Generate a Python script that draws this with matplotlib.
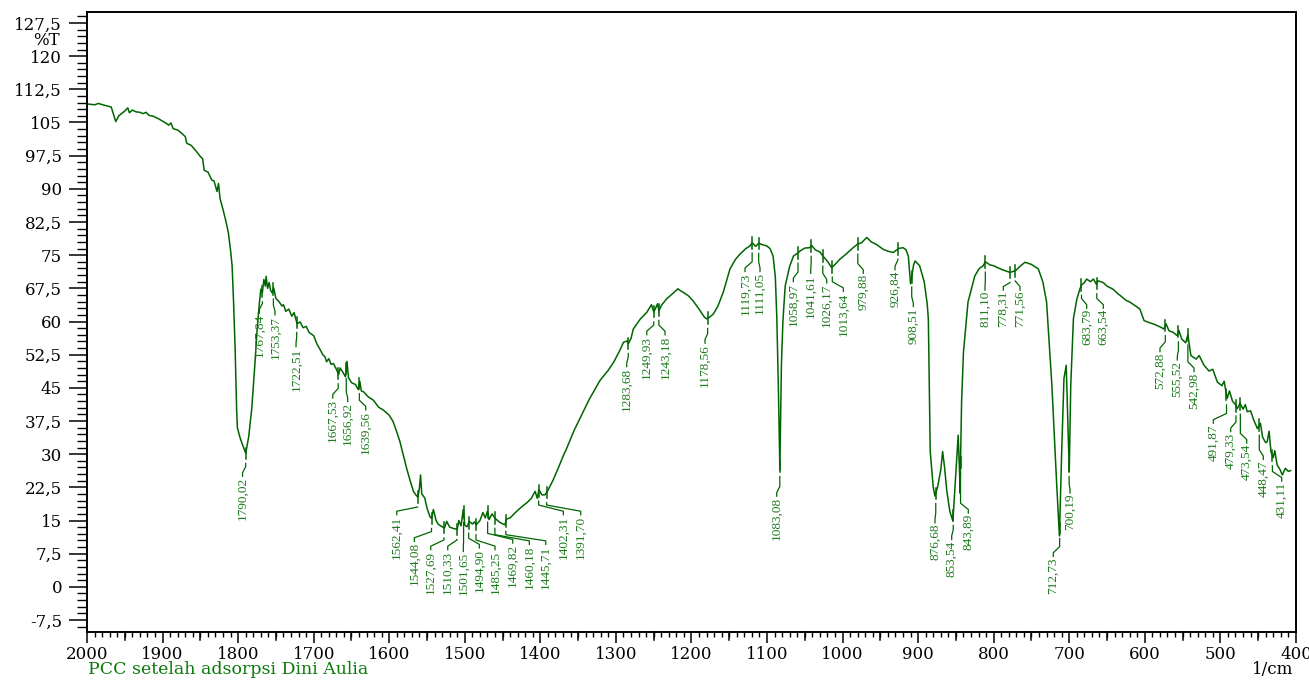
import numpy as np
import matplotlib
matplotlib.use("Agg")
from matplotlib import pyplot as plt
from matplotlib.ticker import FixedLocator, MultipleLocator
import matplotlib.transforms as mtransforms

# FTIR spectrum (wavenumber 1/cm, %T)
wavenumber = [
    2000, 1990, 1985, 1975, 1968, 1962, 1958, 1950, 1946, 1944, 1940, 1935, 1930, 1926,
    1922, 1918, 1912, 1905, 1900, 1895, 1892, 1889, 1886, 1880, 1875, 1870, 1868, 1862,
    1855, 1850, 1847, 1845, 1840, 1835, 1832, 1828, 1826, 1824, 1820, 1816, 1813, 1810,
    1808, 1806, 1804, 1802, 1801, 1798, 1795, 1790, 1786, 1782, 1778, 1775, 1772, 1770,
    1768, 1766, 1764, 1763, 1761, 1759, 1757, 1755, 1753, 1750, 1746, 1742, 1740, 1737,
    1733, 1729, 1726, 1722, 1718, 1714, 1710, 1706, 1700, 1696, 1692, 1688, 1685, 1683,
    1680, 1677, 1674, 1670, 1667, 1665, 1661, 1658, 1656, 1654, 1650, 1648, 1645, 1641,
    1639, 1637, 1634, 1628, 1621, 1614, 1608, 1600, 1595, 1590, 1586, 1581, 1577, 1572,
    1568, 1564, 1562, 1560, 1558.6, 1557, 1553, 1550, 1546, 1544, 1541.6, 1538, 1535, 1530,
    1527, 1524, 1520, 1515, 1510, 1508, 1505, 1502, 1500, 1497, 1494, 1490, 1487, 1485,
    1480, 1476, 1473, 1470, 1468, 1464, 1460, 1458, 1453, 1447, 1445, 1440, 1436, 1430,
    1424, 1418, 1412, 1407, 1404, 1402, 1398, 1394, 1391, 1388, 1383, 1376, 1370, 1365,
    1355, 1345, 1335, 1321, 1310, 1303, 1295, 1290, 1285, 1283.5, 1280, 1277, 1268, 1259,
    1253, 1250, 1248, 1245, 1243, 1240, 1233, 1225, 1218, 1215, 1210, 1204, 1198, 1190,
    1183, 1180, 1176, 1171, 1165, 1158, 1149, 1142, 1136, 1128, 1122.5, 1119.7, 1115, 1111,
    1105, 1100.5, 1096, 1092, 1089, 1087, 1085, 1083, 1081, 1079, 1076, 1070, 1065, 1059,
    1056, 1050, 1043, 1041, 1036, 1030, 1026, 1020, 1014.5, 1010, 1003.5, 995, 986, 980,
    975, 968, 962, 955, 946, 940, 933, 926, 920, 916, 913, 910, 906, 904,
    898, 892, 888, 886.5, 884, 880, 877.7, 874, 870, 867.6, 865, 862, 858, 854,
    850, 847, 845, 844.6, 842.5, 840, 834, 825, 819, 814, 811, 805, 800, 790,
    778.5, 771, 765, 758.6, 750, 741, 735, 730, 723, 716.6, 713, 710, 707, 704,
    700, 698, 694.5, 690, 686, 684, 680, 677, 672, 668, 664, 662, 655, 650,
    642, 635, 631.9, 625, 620, 612, 606.5, 601, 595, 588, 580, 574.6, 572, 568,
    563, 557, 555, 551, 546, 543, 539, 532, 528, 521.6, 515, 510, 504, 498,
    495, 491, 488, 484, 480, 477.6, 474, 470, 467, 464.4, 460, 456, 451, 447,
    444, 440, 438, 435.5, 433, 430, 428, 424.9, 421, 418, 414, 410, 407,
]
transmittance = [
    109.2, 109.0, 109.3, 108.8, 108.5, 105.2, 106.5, 107.6, 108.3, 107.2, 107.8, 107.4, 107.3, 107.0,
    107.3, 106.6, 106.4, 105.8, 105.3, 104.8, 104.4, 104.9, 103.6, 103.3, 102.6, 101.8, 100.3, 99.8,
    98.4, 97.3, 96.8, 94.2, 93.8, 92.0, 91.8, 89.4, 91.2, 87.8, 85.3, 82.5, 80.1, 76.0,
    72.6, 64.0, 53.8, 40.0, 36.0, 34.0, 32.5, 30.2, 34.0, 40.3, 50.0, 58.0, 64.0, 67.3,
    66.5, 69.5, 68.0, 70.2, 67.5, 68.8, 67.0, 66.5, 67.6, 65.2, 64.5, 63.5, 63.8, 62.3,
    62.8, 61.2, 62.0, 59.5, 59.9, 58.6, 58.9, 57.5, 56.8, 55.0, 53.8, 52.5, 52.0, 50.9,
    51.6, 50.3, 50.5, 49.2, 48.0, 49.5, 48.4, 47.5, 51.0, 47.3, 46.2, 46.0, 45.8, 44.6,
    46.5, 44.3, 44.1, 43.0, 42.2, 40.6, 40.0, 38.8, 37.4, 35.0, 32.9, 29.5, 26.8, 23.8,
    21.6, 20.6, 20.3, 22.5, 25.3, 21.0, 20.1, 17.8, 15.8, 15.5, 17.5, 15.0, 14.1, 13.6,
    13.3, 14.8, 13.5, 13.2, 13.0, 15.0, 13.8, 17.5, 13.9, 13.6, 14.8, 14.2, 14.7, 14.0,
    15.0, 16.8, 15.6, 17.1, 15.2, 16.5, 15.5, 15.2, 14.5, 14.0, 15.3, 15.6, 16.3, 17.3,
    18.2, 19.0, 20.0, 21.6, 20.0, 22.0, 20.8, 20.8, 21.5, 22.5, 24.2, 27.0, 29.5, 31.4,
    35.5, 39.0, 42.5, 46.7, 49.0, 50.8, 53.4, 55.3, 55.6, 55.0, 56.2, 58.3, 60.5, 62.1,
    63.8, 62.2, 62.8, 64.0, 62.4, 63.6, 65.1, 66.3, 67.4, 67.0, 66.5, 65.8, 64.7, 62.8,
    61.0, 60.6, 61.0, 61.7, 63.5, 66.6, 71.9, 74.0, 75.2, 76.5, 77.1, 77.8, 77.0, 77.7,
    77.3, 77.1, 76.5, 74.8, 70.0, 60.6, 45.0, 26.5, 50.0, 60.0, 68.0, 72.5, 74.8, 75.5,
    76.0, 76.6, 76.7, 77.2, 76.2, 75.7, 74.8, 73.6, 72.2, 72.9, 74.1, 75.3, 76.7, 77.5,
    77.8, 79.0, 78.0, 77.4, 76.3, 75.9, 75.6, 76.5, 76.7, 76.2, 74.8, 68.5, 72.8, 73.7,
    72.6, 69.0, 64.0, 60.6, 30.6, 22.5, 20.5, 22.8, 26.5, 30.6, 27.0, 21.6, 17.0, 14.9,
    26.1, 34.3, 25.0, 21.2, 41.8, 53.1, 64.4, 70.3, 72.0, 72.6, 73.5, 72.8, 72.6, 71.8,
    71.1, 71.5, 72.5, 73.4, 72.9, 71.9, 69.0, 64.4, 45.6, 23.1, 11.5, 30.6, 47.1, 50.1,
    26.1, 45.6, 60.6, 65.0, 67.3, 68.2, 68.8, 69.6, 69.0, 69.6, 68.4, 69.2, 68.8, 68.0,
    67.3, 66.2, 65.8, 64.8, 64.4, 63.5, 62.8, 60.2, 59.8, 59.4, 58.8, 58.3, 59.5, 57.9,
    57.6, 56.8, 58.0, 56.0, 55.2, 57.0, 52.3, 51.5, 52.3, 50.1, 48.8, 49.2, 46.3, 45.5,
    46.5, 42.6, 44.3, 42.0, 41.2, 40.3, 41.5, 40.2, 41.2, 39.6, 39.8, 37.8, 35.8, 37.0,
    33.8, 32.6, 32.8, 35.2, 30.5, 29.2, 30.8, 27.6, 26.5, 25.3, 26.8, 26.1, 26.3,
]

# labelled peaks
peak_wn = [
    1790.02, 1767.84, 1753.37, 1722.51, 1667.53, 1656.92, 1639.56, 1562.41, 1544.08,
    1527.69, 1510.33, 1501.65, 1494.90, 1485.25, 1469.82, 1460.18, 1445.71, 1402.31,
    1391.70, 1283.68, 1249.93, 1243.18, 1178.56, 1119.73, 1111.05, 1083.08, 1058.97,
    1041.61, 1026.17, 1013.64, 979.88, 926.84, 908.51, 876.68, 853.54, 843.89, 811.10,
    778.31, 771.56, 712.73, 700.19, 683.79, 663.54, 572.88, 555.52, 542.98, 491.87,
    479.33, 473.54, 448.47, 431.11,
]

# label layout: column position (1/cm) and top of text (%T)
label_x = [
    1794.2, 1772.0, 1751.2, 1723.4, 1674.8, 1655.0, 1631.1, 1590.1, 1566.8,
    1545.1, 1522.6, 1502.0, 1480.8, 1460.0, 1436.6, 1414.6, 1392.9, 1369.6,
    1346.6, 1285.7, 1259.2, 1235.0, 1182.1, 1129.1, 1109.3, 1087.2, 1065.2,
    1042.2, 1021.0, 999.0, 972.6, 930.6, 906.4, 877.7, 855.6, 833.6, 811.5,
    787.3, 765.2, 721.1, 699.0, 676.9, 654.9, 579.9, 557.0, 534.9, 509.3,
    486.3, 465.1, 443.2, 418.8,
]
label_top = [
    25.0, 61.9, 61.5, 54.3, 42.7, 41.9, 40.0, 16.3, 10.3,
    8.4, 8.4, 8.0, 8.8, 8.4, 9.9, 9.6, 9.6, 16.3,
    16.3, 49.8, 57.0, 57.0, 55.1, 71.3, 71.3, 20.5, 69.0,
    70.9, 68.7, 66.8, 70.9, 71.7, 63.4, 14.5, 10.7, 16.7, 67.1,
    67.1, 67.1, 6.9, 21.2, 63.0, 63.0, 53.2, 51.3, 48.7, 37.0,
    35.1, 32.5, 28.8, 23.9,
]

ytick_values = [-7.5, 0, 7.5, 15, 22.5, 30, 37.5, 45, 52.5, 60, 67.5, 75, 82.5,
                90, 97.5, 105, 112.5, 120, 127.5]
xtick_values = [2000, 1900, 1800, 1700, 1600, 1500, 1400, 1300, 1200, 1100,
                1000, 900, 800, 700, 600, 500, 400]

curve_color = '#006400'
label_color = '#1b7a1b'
serif = ['DejaVu Serif']

fig = plt.figure(figsize=(13.09, 6.81), dpi=100)
ax = fig.add_axes([0.0665, 0.072, 0.9235, 0.9105])

ax.plot(wavenumber, transmittance, color=curve_color, lw=1.1)

# peak markers, leader lines and rotated labels
wn_inc = np.array(wavenumber)[::-1]
t_inc = np.array(transmittance)[::-1]
for p, xl, yt in zip(peak_wn, label_x, label_top):
    v = np.interp(p, wn_inc, t_inc)
    ax.plot([p, p], [v - 1.3, v + 1.3], color=curve_color, lw=1.1)
    y0 = v - 2.3
    y1 = yt + 2.2 if y0 > yt + 2.2 else y0
    ax.plot([p, p, xl, xl], [y0, y1, yt + 0.8, yt], color=curve_color, lw=0.9)
    ax.text(xl, yt - 0.2, f"{p:.2f}".replace('.', ','), rotation=90,
            ha='center', va='top', color=label_color, fontsize=9.5,
            family=['Liberation Serif'])

ax.set_xlim(2000, 400)
ax.set_ylim(-10.2, 130)

ax.yaxis.set_major_locator(FixedLocator(ytick_values))
ax.set_yticklabels([f"{t:g}".replace('.', ',') for t in ytick_values])
ax.yaxis.set_minor_locator(MultipleLocator(1.5))
ax.xaxis.set_major_locator(FixedLocator(xtick_values))
ax.set_xticklabels([str(t) for t in xtick_values])
ax.xaxis.set_minor_locator(MultipleLocator(10))

ax.tick_params(axis='y', which='major', direction='out', length=13, width=1.1,
               pad=5, labelsize=12)
ax.tick_params(axis='y', which='minor', direction='out', length=7, width=1.0)
ax.tick_params(axis='x', which='major', direction='out', length=8, width=1.1,
               pad=2, labelsize=12)
ax.tick_params(axis='x', which='minor', direction='out', length=3.5, width=1.0)
for lab in ax.get_xticklabels() + ax.get_yticklabels():
    lab.set_family(serif)

# medium ticks at the half hundreds
trans = mtransforms.blended_transform_factory(ax.transData, ax.transAxes)
for w in np.arange(1950, 400, -100):
    ax.plot([w, w], [0, -0.0135], transform=trans, color='black', lw=1.1,
            clip_on=False)

for s in ax.spines.values():
    s.set_linewidth(1.4)

ytrans = mtransforms.blended_transform_factory(ax.transAxes, ax.transData)
ax.text(-0.0223, 123.6, '%T', transform=ytrans, ha='right', va='center',
        fontsize=12, family=serif)
fig.text(0.9878, 0.005, '1/cm', ha='right', va='bottom', fontsize=12, family=serif)
fig.text(0.0672, 0.005, 'PCC setelah adsorpsi Dini Aulia', ha='left', va='bottom',
         fontsize=12.5, family=serif, color='#0a7a0a')

fig.savefig('out.png', dpi=100)
